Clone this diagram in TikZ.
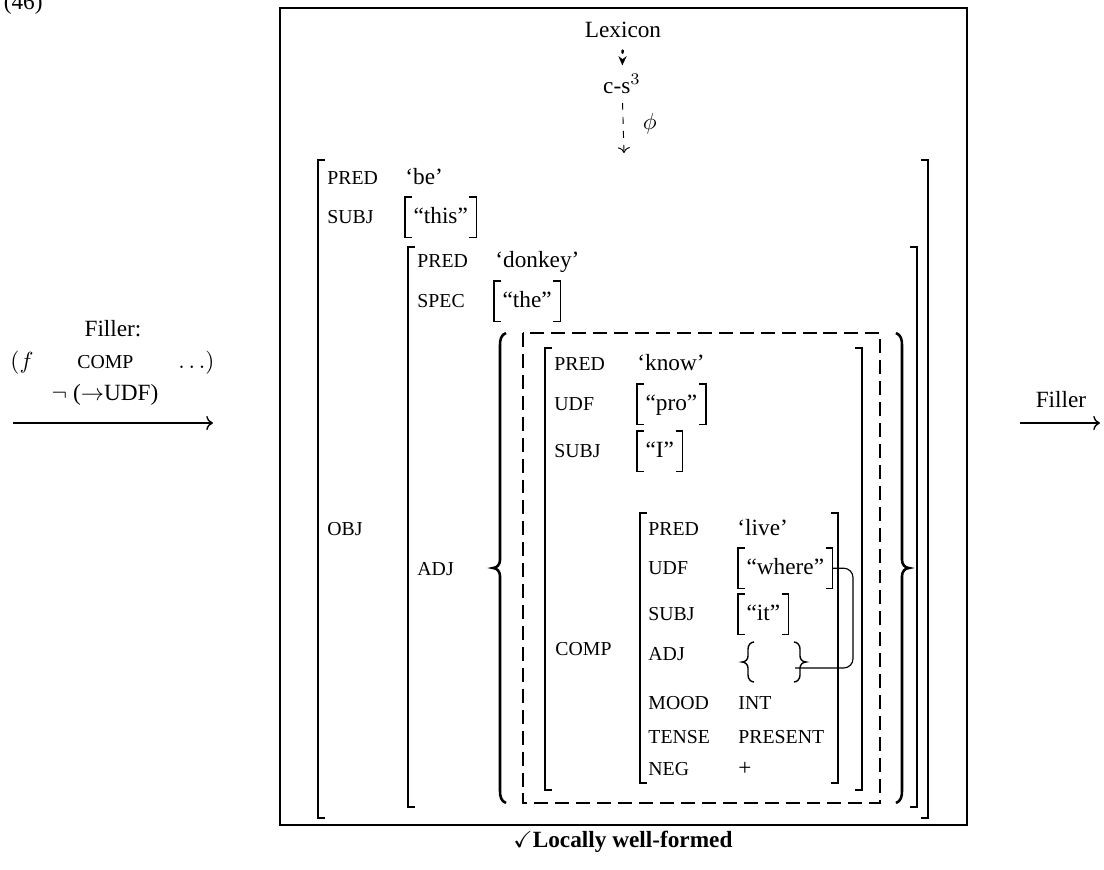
\documentclass[tikz,border=0pt]{standalone}
\usepackage{amsmath, amssymb}
\usepackage{fontspec}
\setmainfont{Liberation Serif}
\usepackage{tikz}
\usetikzlibrary{arrows.meta}

\begin{document}
\begin{tikzpicture}[x=0.43pt, y=-0.43pt,
        feat/.style = {anchor=base west, inner sep=0pt, font=\fontsize{8.5}{10}\selectfont},
        txt/.style = {anchor=base west, inner sep=0pt},
        val/.style = {anchor=base west, inner xsep=3.5pt, inner ysep=3.5pt, text height=7.5pt, text depth=2.5pt},
        brk/.style = {line width=0.6pt},
        box/.style = {line width=0.8pt},
        set/.style = {line width=1.1pt}]
        \useasboundingbox (0,0) rectangle (1104,869);
        \node[txt, anchor=base east] (num) at (43,9) {(46)};
        % input side
        \node[txt, anchor=base] (fillerhd) at (113,336) {Filler:};
        \node[txt] (fillf) at (10,368) {$(f$};
        \node[feat] (fillcomp) at (77,368) {COMP};
        \node[txt, anchor=base east] (filldots) at (215,368) {$\ldots)$};
        \node[txt, anchor=base] (fillneg) at (105,400) {$\neg$ ($\rightarrow$UDF)};
        \coordinate (inL) at (13,423);
        \coordinate (inR) at (213,423);
        \draw[->, line width=0.6pt] (inL) -- (inR);
        % output side
        \node[txt, anchor=base] (fillout) at (1061,407) {Filler};
        \coordinate (outL) at (1020,423);
        \coordinate (outR) at (1100,423);
        \draw[->, line width=0.6pt] (outL) -- (outR);
        % frame
        \draw[box] (280,8) rectangle (967,825);
        \node[txt, anchor=base] (lex) at (623,37) {Lexicon};
        \node[txt, anchor=base] (cs) at (622,93) {c-s$^3$};
        \coordinate (fs) at (624,153);
        \draw[line width=1pt, dash pattern=on 1pt off 3pt, line cap=round, -{Stealth[length=4pt, width=3.5pt]}, shorten <=5.5pt, shorten >=3.5pt] (lex) -- (cs);
        \draw[dashed, -{To}, shorten <=4pt] (cs) -- (fs) node[midway, right=5pt] (phi) {$\phi$};
        \node[txt] (ok) at (513,847) {$\checkmark$\textbf{Locally well-formed}};
        % matrix brackets
        \foreach \l/\r/\t/\b in {318/928/160/818, 408/917/247/807, 545/862/348/790, 640/838/513/783} {
            \draw[brk] (\l+7,\t) -- (\l,\t) -- (\l,\b) -- (\l+7,\b);
            \draw[brk] (\r-7,\t) -- (\r,\t) -- (\r,\b) -- (\r-7,\b);
        }
        % outer f-structure
        \node[feat] (pred1) at (327,184) {PRED};
        \node[txt] (be) at (405,184) {`be'};
        \node[feat] (subj1) at (327,223) {SUBJ};
        \node[val] (this) at (405,223) {``this''};
        \node[feat] (obj) at (327,535) {OBJ};
        % OBJ
        \node[feat] (pred2) at (417,267) {PRED};
        \node[txt] (donkey) at (495,267) {`donkey'};
        \node[feat] (spec) at (417,307) {SPEC};
        \node[val] (the) at (494,307) {``the''};
        \node[feat] (adj1) at (417,575) {ADJ};
        % ADJ set
        \draw[set] (506,333) to[out=200, in=90] (500,345) -- (500,560)
            to[out=-90, in=0] (493,568) to[out=0, in=90] (500,576) -- (500,791)
            to[out=-90, in=160] (506,803);
        \draw[set] (896,333) to[out=-20, in=90] (902,345) -- (902,560)
            to[out=-90, in=180] (909,568) to[out=180, in=90] (902,576) -- (902,791)
            to[out=-90, in=20] (896,803);
        \draw[box, dash pattern=on 6pt off 3pt] (523,333) rectangle (880,803);
        % know
        \node[feat] (pred3) at (554,370) {PRED};
        \node[txt] (know) at (637,370) {`know'};
        \node[feat] (udf1) at (554,410) {UDF};
        \node[val] (pro) at (637,410) {``pro''};
        \node[feat] (subj2) at (554,457) {SUBJ};
        \node[val] (I) at (637,457) {``I''};
        \node[feat] (comp) at (555,655) {COMP};
        % live
        \node[feat] (pred4) at (648,535) {PRED};
        \node[txt] (live) at (737,535) {`live'};
        \node[feat] (udf2) at (648,574) {UDF};
        \node[val] (where) at (738,574) {``where''};
        \node[feat] (subj3) at (648,620) {SUBJ};
        \node[val] (it) at (738,620) {``it''};
        \node[feat] (adj2) at (648,660) {ADJ};
        \draw[brk] (754,642) to[out=180, in=90] (748,649) -- (748,656)
            to[out=-90, in=0] (742,662) to[out=0, in=90] (748,668) -- (748,675)
            to[out=-90, in=180] (754,682);
        \draw[brk] (794,642) to[out=0, in=90] (800,649) -- (800,656)
            to[out=-90, in=180] (806,662) to[out=180, in=90] (800,668) -- (800,675)
            to[out=-90, in=0] (794,682);
        \node[feat] (mood) at (648,709) {MOOD};
        \node[feat] (int) at (738,709) {INT};
        \node[feat] (tense) at (648,743) {TENSE};
        \node[feat] (pres) at (738,743) {PRESENT};
        \node[feat] (neg) at (648,775) {NEG};
        \node[txt] (plus) at (738,775) {+};
        % small brackets
        \foreach \n in {this, the, pro, I, where, it} {
            \draw[brk] ([xshift=3pt]\n.north west) -- (\n.north west) -- (\n.south west) -- ([xshift=3pt]\n.south west);
            \draw[brk] ([xshift=-3pt]\n.north east) -- (\n.north east) -- (\n.south east) -- ([xshift=-3pt]\n.south east);
        }
        % where is shared with the ADJ set
        \coordinate (bend) at (853,668);
        \coordinate (adjin) at (795,668);
        \draw[line width=0.5pt, rounded corners=4pt] (where.east) -| (bend) -- (adjin);
    \end{tikzpicture}
\end{document}
